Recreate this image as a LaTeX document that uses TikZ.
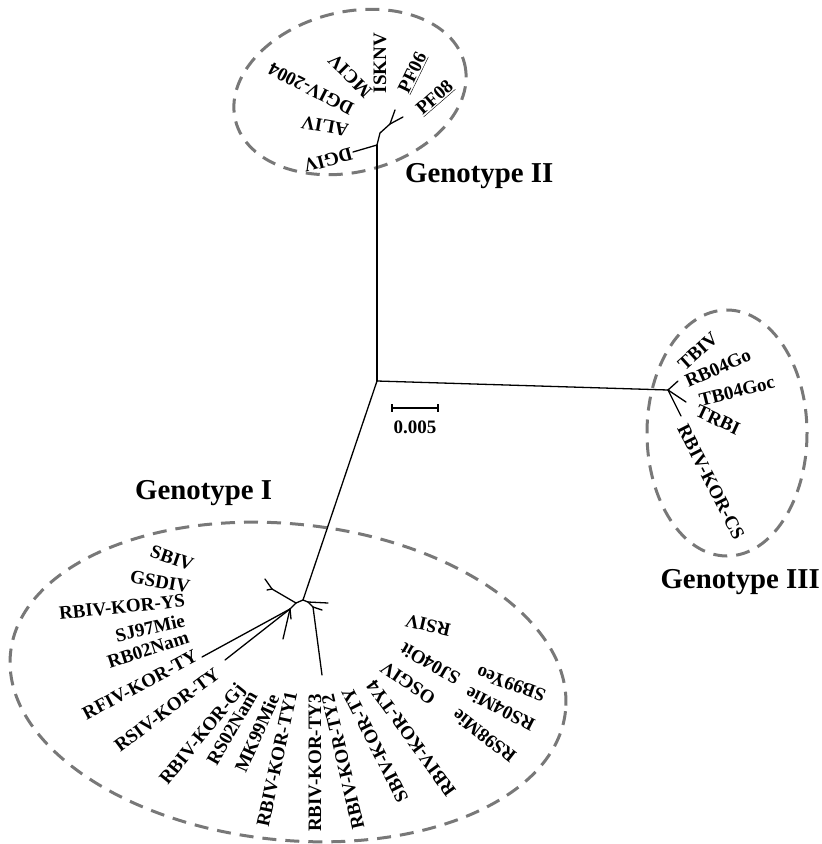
\documentclass[tikz,border=0pt]{standalone}
\usepackage{fontspec}
\setmainfont{Liberation Serif}
\usepackage{tikz}

\definecolor{cladegray}{RGB}{120,120,120}
\tikzset{
  leaf/.style={font=\fontsize{19}{21}\selectfont\bfseries, inner sep=0pt},
  genotype/.style={font=\fontsize{28.8}{32}\selectfont\bfseries, inner sep=0pt},
  branch/.style={line width=1.3pt, line cap=round},
  clade/.style={draw=cladegray, line width=3pt, dash pattern=on 14pt off 9pt},
  scalebar/.style={line width=2.6pt}
}

\begin{document}
\begin{tikzpicture}[x=1pt, y=-1pt]
        \useasboundingbox (0, 0) rectangle (822, 844);

        % dashed clades
        \draw[clade, rotate around={14:(350, 92)}] (350, 92) ellipse [x radius=118, y radius=80];
        \draw[clade] (727, 433) ellipse [x radius=80, y radius=123];
        \draw[clade, rotate around={-6:(288, 682)}] (288, 682) ellipse [x radius=279, y radius=158];

        % inner nodes of the tree
        \coordinate (c) at (377, 381);
        \coordinate (g2a) at (377, 145);
        \coordinate (g2b) at (380, 133);
        \coordinate (g2c) at (390, 124);
        \coordinate (g3) at (668, 390);
        \coordinate (g1) at (303, 600);
        \coordinate (g1a) at (296, 603);
        \coordinate (g1b) at (272, 589);
        \coordinate (g1c) at (290, 609);
        \coordinate (g1d) at (308, 602);
        \coordinate (g1e) at (313, 607);

        % tips
        \coordinate (t1) at (353, 152);
        \coordinate (t2) at (395, 110);
        \coordinate (t3) at (403, 117);
        \coordinate (t4) at (678, 381);
        \coordinate (t5) at (686, 402);
        \coordinate (t6) at (681, 416);
        \coordinate (t7) at (265, 579);
        \coordinate (t8) at (267, 590);
        \coordinate (t9) at (202, 657);
        \coordinate (t10) at (225, 660);
        \coordinate (t11) at (283, 639);
        \coordinate (t12) at (291, 619);
        \coordinate (t13) at (322, 675);
        \coordinate (t14) at (328, 603);
        \coordinate (t15) at (322, 610);

        \draw[branch] (c) -- (g2a);
        \draw[branch] (g2a) -- (t1);
        \draw[branch] (g2a) -- (g2b);
        \draw[branch] (g2b) -- (g2c);
        \draw[branch] (g2c) -- (t2);
        \draw[branch] (g2c) -- (t3);
        \draw[branch] (c) -- (g3);
        \draw[branch] (g3) -- (t4);
        \draw[branch] (g3) -- (t5);
        \draw[branch] (g3) -- (t6);
        \draw[branch] (c) -- (g1);
        \draw[branch] (g1) -- (g1a);
        \draw[branch] (g1a) -- (g1b);
        \draw[branch] (g1b) -- (t7);
        \draw[branch] (g1b) -- (t8);
        \draw[branch] (g1a) -- (g1c);
        \draw[branch] (g1c) -- (t9);
        \draw[branch] (g1c) -- (t10);
        \draw[branch] (g1c) -- (t11);
        \draw[branch] (g1c) -- (t12);
        \draw[branch] (g1) -- (g1d);
        \draw[branch] (g1d) -- (g1e);
        \draw[branch] (g1e) -- (t13);
        \draw[branch] (g1d) -- (t14);
        \draw[branch] (g1e) -- (t15);

        % scale bar
        \coordinate (sbl) at (392, 408);
        \coordinate (sbr) at (438, 408);
        \coordinate (sblt) at (392, 404);
        \coordinate (sblb) at (392, 412);
        \coordinate (sbrt) at (438, 404);
        \coordinate (sbrb) at (438, 412);
        \draw[scalebar] (sbl) -- (sbr);
        \draw[scalebar] (sblt) -- (sblb);
        \draw[scalebar] (sbrt) -- (sbrb);
        \node[leaf] at (415, 427) (scale) {0.005};

        % Genotype II
        \node[leaf, rotate=195] at (328, 160) (dgiv) {DGIV};
        \node[leaf, rotate=170] at (325, 126) (aliv) {ALIV};
        \node[leaf, rotate=153] at (311, 89) (dgiv2004) {DGIV-2004};
        \node[leaf, rotate=135] at (350, 76) (mciv) {MCIV};
        \node[leaf, rotate=90] at (380, 63) (isknv) {ISKNV};
        \node[leaf, rotate=64] at (413, 73) (pf06) {\underline{PF06}};
        \node[leaf, rotate=41] at (435, 98) (pf08) {\underline{PF08}};
        \node[genotype, anchor=base west] at (405, 182) (geno2) {Genotype II};

        % Genotype III
        \node[leaf, rotate=42] at (698, 351) (tbiv) {TBIV};
        \node[leaf, rotate=24] at (718, 368) (rb04go) {RB04Go};
        \node[leaf, rotate=14] at (737, 391) (tb04goc) {TB04Goc};
        \node[leaf, rotate=-25] at (718, 420) (trbi) {TRBI};
        \node[leaf, rotate=-63] at (711, 482) (rbivcs) {RBIV-KOR-CS};
        \node[genotype, anchor=base east] at (820, 588) (geno3) {Genotype III};

        % Genotype I
        \node[leaf, rotate=-19] at (172, 558) (sbiv) {SBIV};
        \node[leaf, rotate=-10] at (160, 582) (gsdiv) {GSDIV};
        \node[leaf, rotate=6] at (122, 607) (rbivys) {RBIV-KOR-YS};
        \node[leaf, rotate=13] at (150, 628) (sj97mie) {SJ97Mie};
        \node[leaf, rotate=18] at (148, 650) (rb02nam) {RB02Nam};
        \node[leaf, rotate=28] at (140, 685) (rfivty) {RFIV-KOR-TY};
        \node[leaf, rotate=37] at (167, 710) (rsivty) {RSIV-KOR-TY};
        \node[leaf, rotate=51] at (203, 735) (rbivgj) {RBIV-KOR-Gj};
        \node[leaf, rotate=60] at (232, 728) (rs02nam) {RS02Nam};
        \node[leaf, rotate=66] at (257, 733) (mk99mie) {MK99Mie};
        \node[leaf, rotate=78] at (277, 759) (rbivty1) {RBIV-KOR-TY1};
        \node[leaf, rotate=90] at (315, 763) (rbivty3) {RBIV-KOR-TY3};
        \node[leaf, rotate=103] at (343, 762) (rbivty2) {RBIV-KOR-TY2};
        \node[leaf, rotate=117] at (375, 745) (sbivty) {SBIV-KOR-TY};
        \node[leaf, rotate=126] at (411, 738) (rbivty4) {RBIV-KOR-TY4};
        \node[leaf, rotate=146] at (408, 683) (osgiv) {OSGIV};
        \node[leaf, rotate=150] at (430, 664) (sj04oit) {SJ04Oit};
        \node[leaf, rotate=167] at (428, 625) (rsiv) {RSIV};
        \node[leaf, rotate=160] at (511, 684) (sb99yeo) {SB99Yeo};
        \node[leaf, rotate=153] at (500, 709) (rs04mie) {RS04Mie};
        \node[leaf, rotate=142] at (484, 736) (rs98mie) {RS98Mie};
        \node[genotype, anchor=base west] at (135, 499) (geno1) {Genotype I};
\end{tikzpicture}
\end{document}
